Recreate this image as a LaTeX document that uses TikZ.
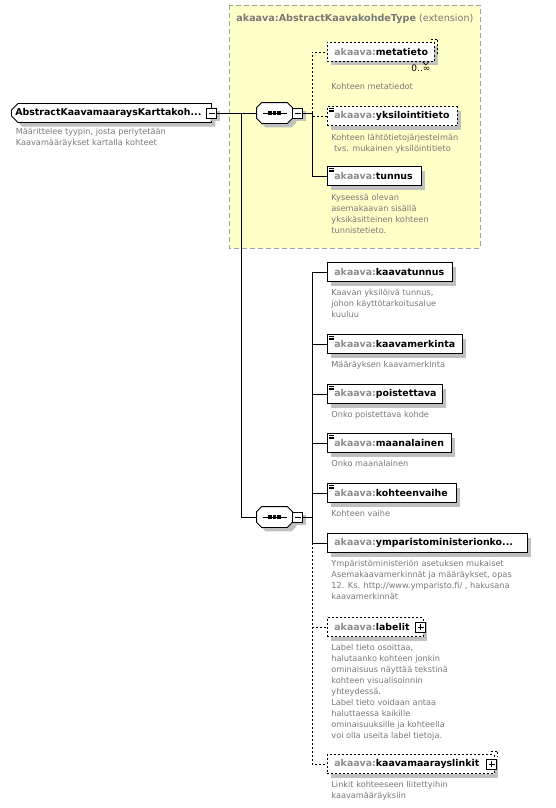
\documentclass[tikz,border=0pt]{standalone}
\usepackage{fontspec}
\setmainfont{DejaVu Sans}
\usetikzlibrary{positioning,calc,shadows,shapes.misc}
\definecolor{descgray}{HTML}{787878}
\definecolor{nsgray}{HTML}{8C8C8C}
\definecolor{extyellow}{HTML}{FFFFC8}
\definecolor{extborder}{HTML}{A0A0A0}
\definecolor{shadowgray}{HTML}{C0C0C0}
\newcommand{\ak}[1]{\mbox{{\color{nsgray}akaava:}#1}}
% chamfered outline of a sequence compositor
\newcommand{\seqpath}[1]{([xshift=5pt]#1.north west) -- ([xshift=-5pt]#1.north east)
   -- ([yshift=-5pt]#1.north east) -- ([yshift=5pt]#1.south east)
   -- ([xshift=-5pt]#1.south east) -- ([xshift=5pt]#1.south west)
   -- ([yshift=5pt]#1.south west) -- ([yshift=-5pt]#1.north west) -- cycle}

\begin{document}
\begin{tikzpicture}[x=1pt,y=-1pt,line width=0.8pt,
      shadowed/.style = {drop shadow={shadow xshift=4pt, shadow yshift=-4pt,
         fill=shadowgray, opacity=1, draw=none}},
      element/.style = {draw, fill=white, anchor=west, shadowed,
         minimum height=19pt, inner xsep=7pt, inner ysep=0pt, align=left,
         font=\fontsize{9.4}{10}\selectfont\bfseries},
      optional/.style = {element, dash pattern=on 2pt off 2pt},
      icon/.style = {path picture={
         \foreach \k in {1.6,3.4,5.2}
            \draw[solid,line width=0.6pt] ([shift={(2pt,-\k pt)}]path picture bounding box.north west) -- ++(5pt,0pt);}},
      root/.style = {element, chamfered rectangle, chamfered rectangle xsep=3pt,
         chamfered rectangle corners={north west,south west}, inner xsep=1pt},
      sequence/.style = {minimum width=35pt, minimum height=20pt, inner sep=0pt},
      minusbox/.style = {draw, fill=white, minimum size=10pt, inner sep=0pt,
         drop shadow={shadow xshift=3pt, shadow yshift=-3pt, fill=shadowgray, opacity=1, draw=none},
         path picture={\draw ([xshift=2pt]path picture bounding box.west) -- ([xshift=-2pt]path picture bounding box.east);}},
      plusbox/.style = {draw, fill=white, minimum size=10pt, inner sep=0pt,
         path picture={\draw ([xshift=2pt]path picture bounding box.west) -- ([xshift=-2pt]path picture bounding box.east);
            \draw ([yshift=-2pt]path picture bounding box.north) -- ([yshift=2pt]path picture bounding box.south);}},
      desc/.style = {anchor=north west, inner sep=0pt, align=left, text=descgray,
         font=\fontsize{8.2}{11}\selectfont},
      dashline/.style = {dash pattern=on 2pt off 2pt}
]
   \useasboundingbox (0,0) rectangle (556,808);

   % extension of akaava:AbstractKaavakohdeType
   \draw[fill=extyellow, draw=extborder, dash pattern=on 5pt off 3pt] (229,5) rectangle (480,248);
   \node[anchor=west, inner sep=0pt, text=descgray, font=\fontsize{9.6}{10}\selectfont]
      (exttitle) at (236,19) {\textbf{akaava:AbstractKaavakohdeType} (extension)};

   % root element
   \node[root, minimum width=200pt, text width=192pt] (main) at (11,113) {AbstractKaavamaaraysKarttakoh...};
   \node[minusbox] (mainm) at (main.east) {};
   \node[desc, below right=8pt and 1pt of main.south west] (maindesc)
      {Määrittelee tyypin, josta periytetään\\Kaavamääräykset kartalla kohteet};

   % sequences
   \node[sequence] (seq1) at (274.5,113) {};
   \node[sequence] (seq2) at (274.5,517) {};
   \foreach \s in {seq1,seq2} {
      \fill[shadowgray, transform canvas={shift={(4pt,-4pt)}}] \seqpath{\s};
      \draw[fill=white] \seqpath{\s};
      \draw[line width=0.7pt] ([xshift=-12pt]\s.center) -- ([xshift=12pt]\s.center);
      \foreach \d in {-4.5,0,4.5}
         \fill ([xshift=\d pt]\s.center) +(-1.6pt,-1.6pt) rectangle +(1.6pt,1.6pt);
   }
   \node[minusbox, right=0pt of seq1] (seq1m) {};
   \coordinate[right=9pt of seq1m] (b1);
   \node[minusbox, right=0pt of seq2] (seq2m) {};
   \coordinate[right=9pt of seq2m] (b2);
   \coordinate[left=15pt of seq1.west] (m1);

   % inherited elements
   \node[optional, minimum width=107pt, text width=93pt] (metatieto) at (327,52) {\ak{metatieto}};
   \draw[dashline] ($(metatieto.north east)+(-4,-3)$) -| ($(metatieto.east)+(3,2)$);
   \node[below left=3pt and 4pt of metatieto.south east, inner sep=0pt,
      font=\fontsize{9}{10}\selectfont] (metacard) {0..∞};
   \draw[line width=0.6pt] ($(metatieto.south east)+(-12,0)$) -- ++(3,3) -- ++(3,-3);
   \node[desc, below right=21pt and 4pt of metatieto.south west] (metadesc) {Kohteen metatiedot};

   \node[optional, icon, minimum width=130pt, text width=116pt] (yksiloint) at (327,116) {\ak{yksilointitieto}};
   \node[desc, below right=8pt and 4pt of yksiloint.south west] (yksidesc)
      {Kohteen lähtötietojärjestelmän\\\mbox{} tvs. mukainen yksilöintitieto};

   \node[element, icon, minimum width=94pt, text width=80pt] (tunnus) at (327,176) {\ak{tunnus}};
   \node[desc, below right=8pt and 4pt of tunnus.south west] (tunnusdesc)
      {Kyseessä olevan\\asemakaavan sisällä\\yksikäsitteinen kohteen\\tunnistetieto.};

   % own elements
   \node[element, minimum width=125pt, text width=111pt] (kaavatunnus) at (327,272) {\ak{kaavatunnus}};
   \node[desc, below right=7pt and 4pt of kaavatunnus.south west] (kaavatunnusdesc)
      {Kaavan yksilöivä tunnus,\\johon käyttötarkoitusalue\\kuuluu};

   \node[element, icon, minimum width=135pt, text width=121pt] (kaavamerkinta) at (327,344) {\ak{kaavamerkinta}};
   \node[desc, below right=7pt and 4pt of kaavamerkinta.south west] (kaavamerkintadesc)
      {Määräyksen kaavamerkinta};

   \node[element, icon, minimum width=115pt, text width=101pt] (poistettava) at (327,394) {\ak{poistettava}};
   \node[desc, below right=7pt and 4pt of poistettava.south west] (poistettavadesc)
      {Onko poistettava kohde};

   \node[element, icon, minimum width=124pt, text width=110pt] (maanalainen) at (327,443) {\ak{maanalainen}};
   \node[desc, below right=7pt and 4pt of maanalainen.south west] (maanalainendesc)
      {Onko maanalainen};

   \node[element, icon, minimum width=129pt, text width=115pt] (kohteenvaihe) at (327,493) {\ak{kohteenvaihe}};
   \node[desc, below right=7pt and 4pt of kohteenvaihe.south west] (kohteenvaihedesc)
      {Kohteen vaihe};

   \node[element, minimum width=200pt, text width=186pt] (ympmin) at (327,543) {\ak{ymparistoministerionko...}};
   \node[desc, below right=7pt and 4pt of ympmin.south west] (ympmindesc)
      {Ympäristöministeriön asetuksen mukaiset\\Asemakaavamerkinnät ja määräykset, opas\\12. Ks. http://www.ymparisto.fi/ , hakusana\\kaavamerkinnät};

   \node[optional, minimum width=96pt, text width=82pt] (labelit) at (327,627) {\ak{labelit}};
   \node[plusbox, xshift=-3pt] (labelitp) at (labelit.east) {};
   \node[desc, below right=7pt and 4pt of labelit.south west] (labelitdesc)
      {Label tieto osoittaa,\\halutaanko kohteen jonkin\\ominaisuus näyttää tekstinä\\kohteen visualisoinnin\\yhteydessä.\\Label tieto voidaan antaa\\haluttaessa kaikille\\ominaisuuksille ja kohteella\\voi olla useita label tietoja.};

   \node[optional, minimum width=167pt, text width=153pt] (linkit) at (327,764) {\ak{kaavamaarayslinkit}};
   \draw[dashline] ($(linkit.north east)+(-4,-3)$) -| ($(linkit.north east)+(3,3)$);
   \node[plusbox, xshift=-3pt] (linkitp) at (linkit.east) {};
   \node[desc, below right=7pt and 4pt of linkit.south west] (linkitdesc)
      {Linkit kohteeseen liitettyihin\\kaavamääräyksiin};

   % connectors
   \draw (mainm.east) -- (seq1.west);
   \draw (m1) |- (seq2.west);
   \draw (seq1m.east) -- (b1);
   \draw[dashline] (b1) |- (metatieto.west);
   \draw[dashline] (b1) |- (yksiloint.west);
   \draw (b1) |- (tunnus.west);
   \draw (seq2m.east) -- (b2);
   \foreach \n in {kaavatunnus,kaavamerkinta,poistettava,maanalainen,kohteenvaihe,ympmin}
      \draw (b2) |- (\n.west);
   \draw[dashline] (ympmin.west -| b2) |- (labelit.west);
   \draw[dashline] (labelit.west -| b2) |- (linkit.west);
\end{tikzpicture}
\end{document}
